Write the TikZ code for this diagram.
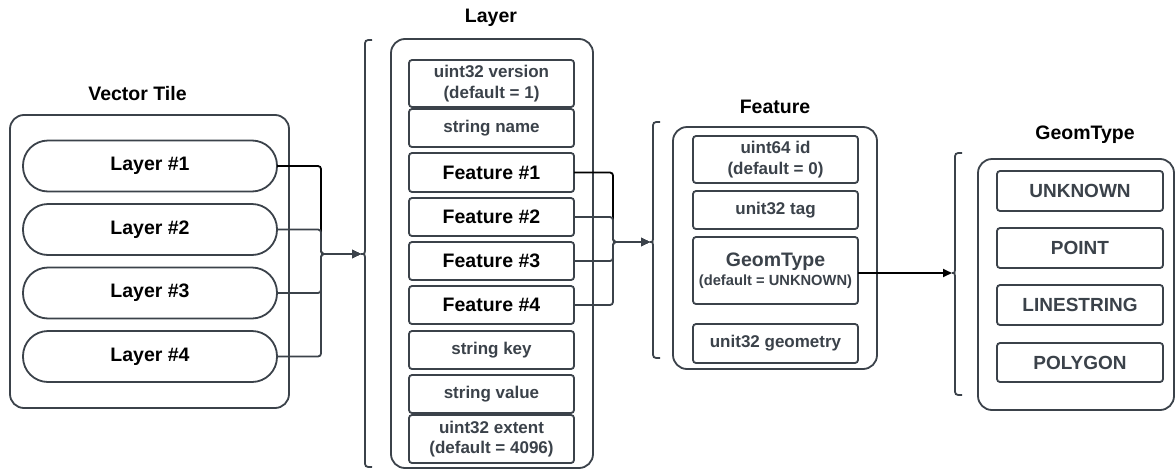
\documentclass[tikz,border=0pt]{standalone}
\usepackage{fontspec}
\setmainfont{Liberation Sans}
\usetikzlibrary{arrows.meta}
\definecolor{lc}{HTML}{3B424A}
\begin{document}
\begin{tikzpicture}[x=1pt,y=-1pt,
  outerbox/.style={draw=lc, line width=1.8pt, rounded corners=14pt, inner sep=0pt, outer sep=0pt, fill=white},
  fieldbox/.style={draw=lc, line width=1.8pt, rounded corners=3pt, inner sep=0pt, outer sep=0pt, minimum width=165pt, text=lc, align=center, font=\bfseries\fontsize{17}{20.5}\selectfont},
  featbox/.style={fieldbox, text=black, font=\bfseries\fontsize{19.5}{22}\selectfont},
  pill/.style={draw=lc, line width=1.8pt, rounded corners=25pt, inner sep=0pt, outer sep=0pt, minimum width=254pt, minimum height=51pt, font=\bfseries\fontsize{19.5}{22}\selectfont},
  gtbox/.style={fieldbox, minimum width=166pt, font=\bfseries\fontsize{19}{22}\selectfont},
  title/.style={font=\bfseries\fontsize{19.5}{22}\selectfont, inner sep=0pt},
  brace/.style={draw=lc, line width=1.8pt},
  cong/.style={draw=lc, line width=1.8pt, rounded corners=3pt, -{Triangle[length=9pt,width=8pt]}},
  conb/.style={draw=black, line width=1.8pt, rounded corners=3pt, -{Triangle[length=9pt,width=8pt]}}
]
\useasboundingbox (0,0) rectangle (1176,469);

% ---------- Vector Tile ----------
\node[title] (vtt) at (137.5,94) {Vector Tile};
\node[outerbox, minimum width=279pt, minimum height=293pt] (vt) at (149.5,261.5) {};
\node[pill] (l1) at (150,166) {Layer \#1};
\node[pill] (l2) at (150,229.5) {Layer \#2};
\node[pill] (l3) at (150,293) {Layer \#3};
\node[pill] (l4) at (150,356.5) {Layer \#4};

% ---------- Layer ----------
\coordinate (lbt) at (361,254);
\draw[brace] (372,40) .. controls (365,40) .. (365,47) -- (365,247) .. controls (365,254) .. (lbt) .. controls (365,254) .. (365,261) -- (365,460) .. controls (365,467) .. (372,467);
\node[title] (lyt) at (491,18) {Layer};
\node[outerbox, minimum width=202pt, minimum height=429pt] (ly) at (492,253.5) {};
\node[fieldbox, minimum height=47pt] (ver) at (491.5,83.5) {uint32 version\\(default = 1)};
\node[fieldbox, minimum height=38pt] (nam) at (491.5,128) {string name};
\node[featbox, minimum height=39pt] (f1) at (491.5,172.5) {Feature \#1};
\node[featbox, minimum height=38pt] (f2) at (491.5,217) {Feature \#2};
\node[featbox, minimum height=38pt] (f3) at (491.5,261) {Feature \#3};
\node[featbox, minimum height=38pt] (f4) at (491.5,305) {Feature \#4};
\node[fieldbox, minimum height=38pt] (key) at (491.5,350) {string key};
\node[fieldbox, minimum height=38pt] (val) at (491.5,394) {string value};
\node[fieldbox, minimum height=48pt] (ext) at (491.5,439) {uint32 extent\\(default = 4096)};

% layer connectors
\coordinate (lbus) at (321,254);
\draw[conb] (l1.east) -| (lbus) -- (lbt);
\draw[cong] (l2.east) -| (lbus) -- (lbt);
\draw[cong] (l3.east) -| (lbus) -- (lbt);
\draw[cong] (l4.east) -| (lbus) -- (lbt);

% ---------- Feature ----------
\coordinate (fbt) at (650,242);
\draw[brace] (660,122) .. controls (653,122) .. (653,129) -- (653,235) .. controls (653,242) .. (fbt) .. controls (653,242) .. (653,249) -- (653,351) .. controls (653,358) .. (660,358);
\node[title] (ftt) at (775,107) {Feature};
\node[outerbox, minimum width=204pt, minimum height=242pt] (ft) at (775,248) {};
\node[fieldbox, minimum height=47pt] (fid) at (775.5,159.5) {uint64 id\\(default = 0)};
\node[fieldbox, minimum height=38pt] (ftag) at (775.5,210) {unit32 tag};
\node[fieldbox, minimum height=67pt] (fgt) at (775.5,270.5) {{\fontsize{19.5}{22}\selectfont GeomType}\\[-1pt]{\fontsize{14.7}{17}\selectfont (default = UNKNOWN)}};
\node[fieldbox, minimum height=39pt] (fgeo) at (775.5,343.5) {unit32 geometry};

% feature connectors
\coordinate (fbus) at (613,242);
\draw[conb] (f1.east) -| (fbus) -- (fbt);
\draw[cong] (f2.east) -| (fbus) -- (fbt);
\draw[cong] (f3.east) -| (fbus) -- (fbt);
\draw[cong] (f4.east) -| (fbus) -- (fbt);

% ---------- GeomType ----------
\coordinate (gbt) at (952,273);
\draw[brace] (962,153) .. controls (955,153) .. (955,160) -- (955,266) .. controls (955,273) .. (gbt) .. controls (955,273) .. (955,280) -- (955,388) .. controls (955,395) .. (962,395);
\node[title] (gtt) at (1085,135) {GeomType};
\node[outerbox, minimum width=196pt, minimum height=251pt] (gt) at (1076,284.5) {};
\node[gtbox, minimum height=40pt] (unk) at (1080,191) {UNKNOWN};
\node[gtbox, minimum height=40pt] (pnt) at (1080,248) {POINT};
\node[gtbox, minimum height=40pt] (lns) at (1080,305) {LINESTRING};
\node[gtbox, minimum height=39pt] (pol) at (1080,362.5) {POLYGON};

\draw[conb] (fgt.east |- gbt) -- (gbt);
\end{tikzpicture}
\end{document}
